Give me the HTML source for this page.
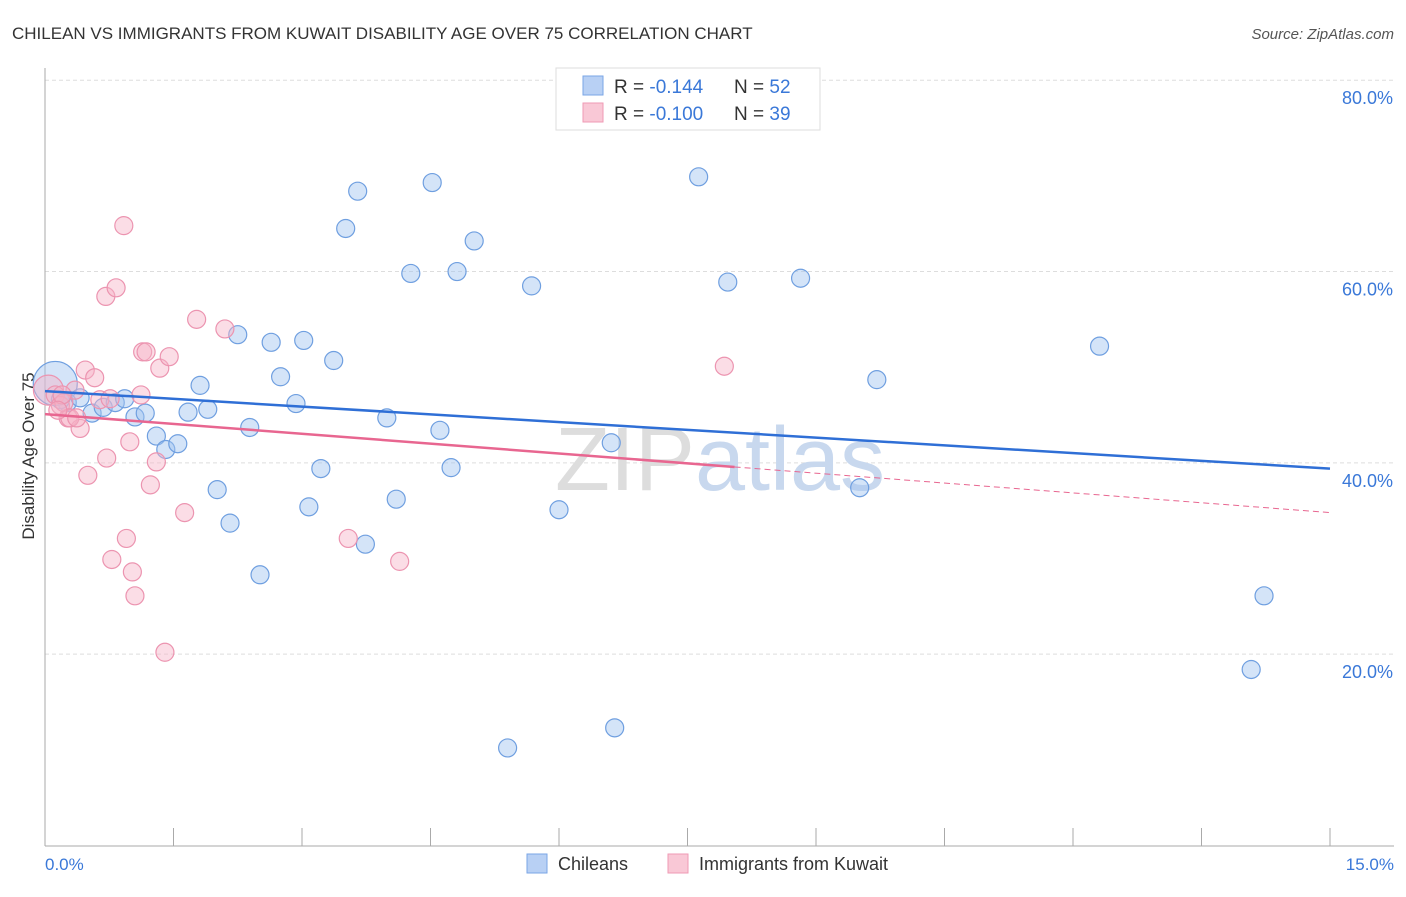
<!DOCTYPE html>
<html><head><meta charset="utf-8"><style>
body{margin:0;background:#fff;font-family:"Liberation Sans",sans-serif}
svg text{font-family:"Liberation Sans",sans-serif}
</style></head><body>
<svg width="1406" height="892" xmlns="http://www.w3.org/2000/svg">
<text x="12" y="39" font-size="17" fill="#333">CHILEAN VS IMMIGRANTS FROM KUWAIT DISABILITY AGE OVER 75 CORRELATION CHART</text>
<text x="1394" y="39" font-size="15" fill="#555" text-anchor="end" font-style="italic">Source: ZipAtlas.com</text>
<g id="grid"></g>
<text x="720" y="490" font-size="90" fill="#ddd" text-anchor="middle" font-family="Liberation Serif">ZIP<tspan fill="#c8d8ee" font-family="Liberation Sans">atlas</tspan></text>
<line x1="45" y1="68" x2="45" y2="846" stroke="#aaa"/>
<line x1="45" y1="846" x2="1394" y2="846" stroke="#aaa"/>
<text transform="translate(34,456) rotate(-90)" font-size="17" fill="#333" text-anchor="middle">Disability Age Over 75</text>
<text x="45" y="870" font-size="17" fill="#3a78d8">0.0%</text>
<text x="1394" y="870" font-size="17" fill="#3a78d8" text-anchor="end">15.0%</text>
<g id="pts"></g>
<g id="lines"></g>
<g>
<rect x="556" y="68" width="264" height="62" fill="#fff" stroke="#ddd"/>
<rect x="583" y="76" width="20" height="19" fill="#b8d0f4" stroke="#7aa6e6"/>
<rect x="583" y="103" width="20" height="19" fill="#f9c8d6" stroke="#ef9ab4"/>
<text x="614" y="93" font-size="19" fill="#333">R = <tspan fill="#3a78d8">-0.144</tspan><tspan x="734">N = </tspan><tspan fill="#3a78d8">52</tspan></text>
<text x="614" y="120" font-size="19" fill="#333">R = <tspan fill="#3a78d8">-0.100</tspan><tspan x="734">N = </tspan><tspan fill="#3a78d8">39</tspan></text>
</g>
<g>
<rect x="527" y="854" width="20" height="19" fill="#b8d0f4" stroke="#7aa6e6"/>
<text x="558" y="870" font-size="18" fill="#333">Chileans</text>
<rect x="668" y="854" width="20" height="19" fill="#f9c8d6" stroke="#ef9ab4"/>
<text x="699" y="870" font-size="18" fill="#333">Immigrants from Kuwait</text>
</g>
</svg>
<script>
const yTicks=[20,40,60,80];
const yTickLabels=["20.0%","40.0%","60.0%","80.0%"];
const xTicks=[0,1.5,3,4.5,6,7.5,9,10.5,12,13.5,15];
const blueX=[0.12,0.26,0.41,0.55,0.68,0.82,0.93,1.05,1.17,1.30,1.41,1.55,1.67,1.81,1.90,2.01,2.16,2.25,2.39,2.51,2.64,2.75,2.93,3.02,3.08,3.22,3.37,3.51,3.65,3.74,3.99,4.10,4.27,4.52,4.61,4.74,4.81,5.01,5.40,5.68,6.00,6.61,6.65,7.63,7.97,8.82,9.51,9.71,12.31,14.08,14.23,0.18];
const blueY=[48.3,46.3,46.8,45.2,45.8,46.3,46.7,44.8,45.2,42.8,41.4,42.0,45.3,48.1,45.6,37.2,33.7,53.4,43.7,28.3,52.6,49.0,46.2,52.8,35.4,39.4,50.7,64.5,68.4,31.5,44.7,36.2,59.8,69.3,43.4,39.5,60.0,63.2,10.2,58.5,35.1,42.1,12.3,69.9,58.9,59.3,37.4,48.7,52.2,18.4,26.1,46.6];
const pinkX=[0.04,0.12,0.18,0.27,0.35,0.41,0.47,0.50,0.58,0.64,0.72,0.71,0.83,0.92,0.95,0.99,1.02,1.05,1.12,1.14,1.18,1.23,1.30,1.34,1.40,1.45,1.63,1.77,2.10,3.54,4.14,7.93,0.22,0.29,0.37,0.20,0.76,0.78,0.15];
const pinkY=[47.6,47.1,46.0,44.7,47.6,43.6,49.7,38.7,48.9,46.6,40.5,57.4,58.3,64.8,32.1,42.2,28.6,26.1,47.1,51.6,51.6,37.7,40.1,49.9,20.2,51.1,34.8,55.0,54.0,32.1,29.7,50.1,46.3,44.7,44.7,47.1,46.7,29.9,45.5];
const blueTrend=[47.5,39.4];
const pinkTrend=[45.1,34.8];
const pinkSolidEnd=8.05;
const NS="http://www.w3.org/2000/svg";
const sx=v=>45+v/15*1285, sy=v=>845.5-v*9.566;
function mk(tag,attrs,parent){const e=document.createElementNS(NS,tag);for(const k in attrs)e.setAttribute(k,attrs[k]);parent.appendChild(e);return e;}
const grid=document.getElementById('grid');
yTicks.forEach((t,i)=>{
 const l=mk('line',{x1:45,x2:1394,y1:sy(t),y2:sy(t),stroke:'#ddd','stroke-dasharray':'4,3'},grid);
 
 
 const tx=mk('text',{x:1393,y:sy(t)+24,'font-size':18,fill:'#3a78d8','text-anchor':'end'},grid);
 tx.textContent=yTickLabels[i];
 
 
});
xTicks.forEach(t=>{
 const l=mk('line',{x1:sx(t),x2:sx(t),y1:828,y2:846,stroke:'#aaa'},grid);
 
 
});
const pts=document.getElementById('pts');
blueX.forEach((x,i)=>{
 const c=mk('circle',{cx:sx(x),cy:sy(blueY[i]),r:i===0?22:9,fill:'rgba(160,196,240,0.45)',stroke:'#6f9fe0','stroke-width':1.2},pts);
 
 
});
pinkX.forEach((x,i)=>{
 const c=mk('circle',{cx:sx(x),cy:sy(pinkY[i]),r:i===0?15:9,fill:'rgba(246,180,200,0.45)',stroke:'#ec94b0','stroke-width':1.2},pts);
 
 
});
const lines=document.getElementById('lines');
const bl=mk('line',{x1:sx(0),y1:sy(blueTrend[0]),x2:sx(15),y2:sy(blueTrend[1]),stroke:'#2f6fd6','stroke-width':2.5},lines);


const pm=v=>pinkTrend[0]+(pinkTrend[1]-pinkTrend[0])*v/15;
const pl=mk('line',{x1:sx(0),y1:sy(pinkTrend[0]),x2:sx(pinkSolidEnd),y2:sy(pm(pinkSolidEnd)),stroke:'#e86690','stroke-width':2.5},lines);


const pd=mk('line',{x1:sx(pinkSolidEnd),y1:sy(pm(pinkSolidEnd)),x2:sx(15),y2:sy(pinkTrend[1]),stroke:'#e86690','stroke-width':1,'stroke-dasharray':'6,4'},lines);


</script>
</body></html>
